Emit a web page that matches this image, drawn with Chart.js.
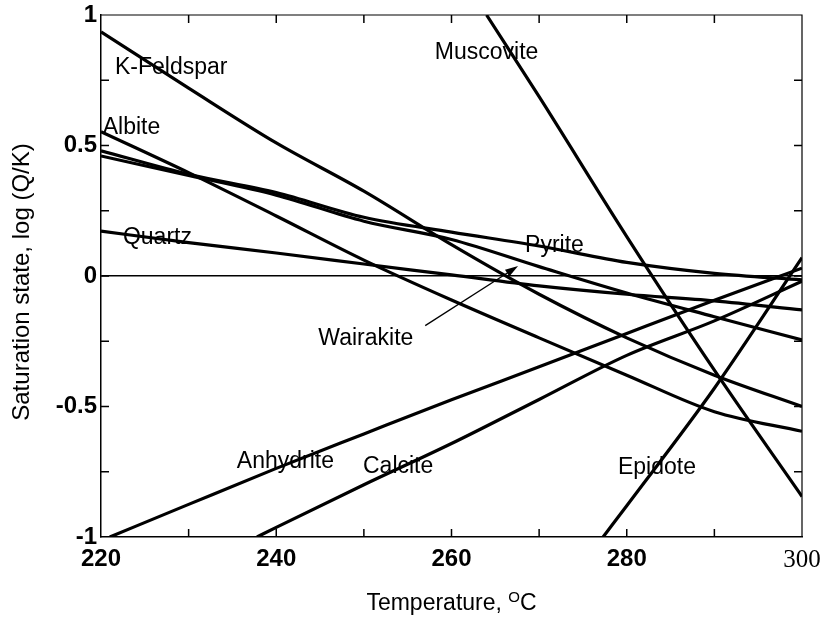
<!DOCTYPE html>
<html>
<head>
<meta charset="utf-8">
<script src="https://cdn.jsdelivr.net/npm/chart.js@4.4.1/dist/chart.umd.min.js"></script>
<style>
  html, body { margin: 0; padding: 0; background: #fff; }
</style>
</head>
<body>
<canvas id="chart" width="820" height="617"></canvas>
<script>
// temperatures (°C) and saturation indices log(Q/K)
const temps = [220, 230, 240, 250, 260, 270, 280, 290, 300];
const kFeldspar = [0.935, 0.72, 0.51, 0.325, 0.12, -0.07, -0.237, -0.38, -0.50];
const albite = [0.553, 0.396, 0.23, 0.061, -0.092, -0.237, -0.38, -0.52, -0.595];
const pyrite = [0.48, 0.39, 0.32, 0.225, 0.168, 0.115, 0.052, 0.01, -0.015];
const wairakite = [0.46, 0.385, 0.31, 0.21, 0.14, 0.036, -0.065, -0.156, -0.245];
const quartz = [0.172, 0.128, 0.088, 0.046, 0.004, -0.038, -0.07, -0.095, -0.13];

const muscoviteT = [264, 270, 280, 290, 300];
const muscovite = [1.0, 0.687, 0.151, -0.361, -0.845];
const anhydriteT = [221, 230, 240, 250, 260, 270, 280, 290, 300];
const anhydrite = [-1.0, -0.875, -0.737, -0.605, -0.474, -0.348, -0.22, -0.093, 0.03];
const calciteT = [237.8, 240, 250, 260, 270, 280, 290, 300];
const calcite = [-1.0, -0.963, -0.80, -0.642, -0.473, -0.304, -0.172, -0.02];
const epidoteT = [277.3, 280, 290, 300];
const epidote = [-1.0, -0.88, -0.43, 0.07];

// in-plot mineral labels (data coordinates, left edge / middle)
const labelNames = ['K-Feldspar', 'Albite', 'Quartz', 'Muscovite', 'Pyrite', 'Wairakite', 'Anhydrite', 'Calcite', 'Epidote'];
const labelX = [221.6, 220.2, 222.5, 258.1, 268.4, 244.8, 235.5, 249.9, 279.0];
const labelY = [0.80, 0.567, 0.146, 0.854, 0.115, -0.241, -0.713, -0.732, -0.736];

// Wairakite pointer: from label to the curve
const arrowX = [257.0, 267.6];
const arrowY = [-0.19, 0.038];

const pts = (xs, ys) => xs.map((t, i) => ({ x: t, y: ys[i] }));

const series = [
    ['K-Feldspar', temps, kFeldspar],
    ['Albite', temps, albite],
    ['Pyrite', temps, pyrite],
    ['Wairakite', temps, wairakite],
    ['Quartz', temps, quartz],
    ['Muscovite', muscoviteT, muscovite],
    ['Anhydrite', anhydriteT, anhydrite],
    ['Calcite', calciteT, calcite],
    ['Epidote', epidoteT, epidote]
];

const sans = '"Liberation Sans", Arial, Helvetica, sans-serif';

const decorations = {
    id: 'decorations',
    afterDatasetsDraw(chart) {
        const { ctx, chartArea: a, scales: { x, y } } = chart;
        ctx.save();
        ctx.strokeStyle = '#000';
        ctx.fillStyle = '#000';

        // top and right frame
        ctx.lineWidth = 1.2;
        ctx.beginPath();
        ctx.moveTo(a.left, a.top);
        ctx.lineTo(a.right, a.top);
        ctx.lineTo(a.right, a.bottom);
        ctx.stroke();

        // inward tick marks on all four sides
        const len = 8;
        ctx.lineWidth = 1.5;
        ctx.beginPath();
        x.ticks.forEach(t => {
            if (t.value === x.min || t.value === x.max) return;
            const px = x.getPixelForValue(t.value);
            ctx.moveTo(px, a.bottom); ctx.lineTo(px, a.bottom - len);
            ctx.moveTo(px, a.top); ctx.lineTo(px, a.top + len);
        });
        y.ticks.forEach(t => {
            if (t.value === y.min || t.value === y.max) return;
            const py = y.getPixelForValue(t.value);
            ctx.moveTo(a.left, py); ctx.lineTo(a.left + len, py);
            ctx.moveTo(a.right, py); ctx.lineTo(a.right - len, py);
        });
        ctx.stroke();

        // mineral labels
        ctx.font = '23px ' + sans;
        ctx.textBaseline = 'middle';
        ctx.textAlign = 'left';
        labelNames.forEach((name, i) => {
            ctx.fillText(name, x.getPixelForValue(labelX[i]), y.getPixelForValue(labelY[i]));
        });

        // arrow
        const x0 = x.getPixelForValue(arrowX[0]), y0 = y.getPixelForValue(arrowY[0]);
        const x1 = x.getPixelForValue(arrowX[1]), y1 = y.getPixelForValue(arrowY[1]);
        const ang = Math.atan2(y1 - y0, x1 - x0);
        ctx.lineWidth = 1.3;
        ctx.beginPath();
        ctx.moveTo(x0, y0);
        ctx.lineTo(x1 - 10 * Math.cos(ang), y1 - 10 * Math.sin(ang));
        ctx.stroke();
        ctx.beginPath();
        ctx.moveTo(x1, y1);
        ctx.lineTo(x1 - 13 * Math.cos(ang) + 4 * Math.sin(ang), y1 - 13 * Math.sin(ang) - 4 * Math.cos(ang));
        ctx.lineTo(x1 - 13 * Math.cos(ang) - 4 * Math.sin(ang), y1 - 13 * Math.sin(ang) + 4 * Math.cos(ang));
        ctx.closePath();
        ctx.fill();

        // x axis title with superscript O
        const main = '23px ' + sans, small = '15px ' + sans;
        const t1 = 'Temperature, ', t2 = 'O', t3 = 'C';
        ctx.font = main; const w1 = ctx.measureText(t1).width, w3 = ctx.measureText(t3).width;
        ctx.font = small; const w2 = ctx.measureText(t2).width;
        let sx = (a.left + a.right) / 2 - (w1 + w2 + w3) / 2;
        const base = 610;
        ctx.textBaseline = 'alphabetic';
        ctx.font = main; ctx.fillText(t1, sx, base); sx += w1;
        ctx.font = small; ctx.fillText(t2, sx, base - 8); sx += w2;
        ctx.font = main; ctx.fillText(t3, sx, base);

        // y axis title
        ctx.save();
        ctx.translate(22, 282);
        ctx.rotate(-Math.PI / 2);
        ctx.font = '24px ' + sans;
        ctx.textAlign = 'center';
        ctx.textBaseline = 'middle';
        ctx.fillText('Saturation state, log (Q/K)', 0, 0);
        ctx.restore();

        ctx.restore();
    }
};

new Chart(document.getElementById('chart'), {
    type: 'line',
    data: {
        datasets: series.map(([name, xs, ys]) => ({
            label: name,
            data: pts(xs, ys),
            borderColor: '#000',
            borderWidth: 3.2,
            pointRadius: 0,
            cubicInterpolationMode: 'monotone',
            fill: false
        }))
    },
    options: {
        responsive: false,
        animation: false,
        events: [],
        layout: { padding: { top: 15, right: 18, left: 0, bottom: 0 } },
        plugins: {
            legend: { display: false },
            tooltip: { enabled: false }
        },
        scales: {
            x: {
                type: 'linear',
                min: 220,
                max: 300,
                afterFit: s => { s.height = 80; s.paddingLeft = 0; s.paddingRight = 0; },
                grid: { display: false, drawTicks: false },
                border: { display: true, color: '#000', width: 1.5 },
                ticks: {
                    stepSize: 10,
                    autoSkip: false,
                    maxRotation: 0,
                    padding: 8,
                    color: '#000',
                    callback: v => (v % 20 === 0 ? String(v) : ''),
                    font: c => (c.tick && c.tick.value === 300
                        ? { family: '"Liberation Serif", "Times New Roman", serif', size: 25, weight: 'normal' }
                        : { family: sans, size: 24, weight: 'bold' })
                }
            },
            y: {
                min: -1,
                max: 1,
                afterFit: s => { s.width = 101; s.paddingTop = 0; s.paddingBottom = 0; },
                grid: {
                    drawTicks: false,
                    color: c => (c.tick && c.tick.value === 0 ? '#000' : 'rgba(0,0,0,0)'),
                    lineWidth: 1.5
                },
                border: { display: true, color: '#000', width: 1.5 },
                ticks: {
                    stepSize: 0.25,
                    autoSkip: false,
                    padding: 4,
                    color: '#000',
                    font: { family: sans, size: 24, weight: 'bold' },
                    callback: v => (Math.abs(v * 2 - Math.round(v * 2)) < 1e-9 ? String(v) : '')
                }
            }
        }
    },
    plugins: [decorations]
});
</script>
</body>
</html>
